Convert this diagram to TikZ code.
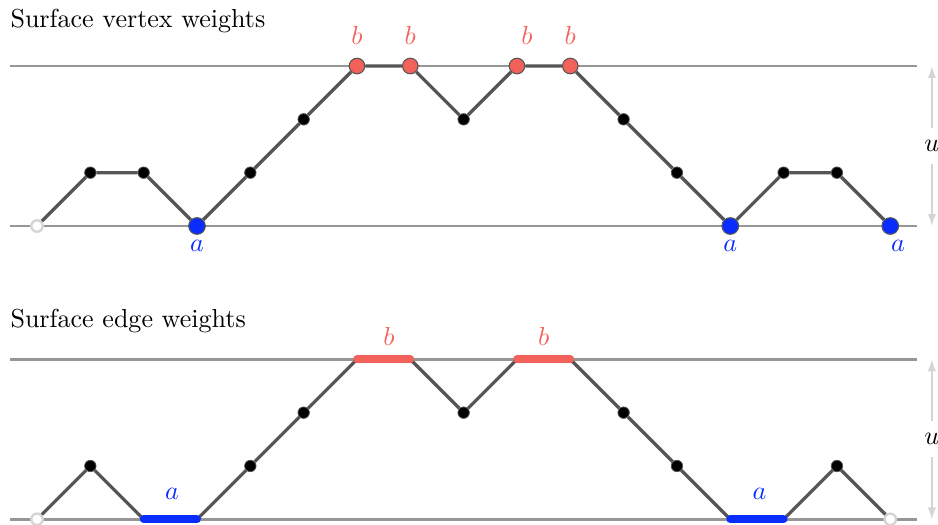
\documentclass[tikz,border=0pt]{standalone}
\usepackage{tikz}
\usetikzlibrary{arrows.meta,positioning}
\definecolor{surfgray}{RGB}{150,150,150}
\definecolor{surfdark}{RGB}{85,85,85}
\definecolor{surfred}{RGB}{242,98,90}
\definecolor{surfblue}{RGB}{10,45,255}
\definecolor{surflight}{RGB}{212,212,212}

\begin{document}
\begin{tikzpicture}[x=0.72cm, y=0.72cm,
  rail/.style={draw=surfgray, line width=0.95pt},
  walk/.style={draw=surfdark, line width=1.25pt},
  blackdot/.style={circle, fill=black, draw=surfdark, line width=0.3pt, inner sep=0pt, minimum size=4.4pt},
  bvert/.style={circle, fill=surfred, draw=surfdark, line width=0.4pt, inner sep=0pt, minimum size=6pt},
  avert/.style={circle, fill=surfblue, draw=surfdark, line width=0.4pt, inner sep=0pt, minimum size=6.4pt},
  openv/.style={circle, fill=white, draw=surflight, line width=0.9pt, inner sep=0pt, minimum size=4.4pt},
  bedge/.style={draw=surfred, line width=3pt, line cap=round},
  aedge/.style={draw=surfblue, line width=3pt, line cap=round},
  tag/.style={inner sep=0pt},
  >={Latex[length=4.6pt,width=3.2pt]}
]
  \useasboundingbox (-0.694,-5.606) rectangle (16.895,4.238);

  % Titles
  \node[anchor=base west, inner sep=0pt] (ttop) at (-0.506,3.73) {Surface vertex weights};
  \node[anchor=base west, inner sep=0pt] (tbot) at (-0.506,-1.894) {Surface edge weights};

  % Rails
  \coordinate (rt1) at (-0.506,3);    \coordinate (rt2) at (16.5,3);
  \coordinate (rb1) at (-0.506,0);    \coordinate (rb2) at (16.5,0);
  \coordinate (st1) at (-0.506,-2.5); \coordinate (st2) at (16.5,-2.5);
  \coordinate (sb1) at (-0.506,-5.5); \coordinate (sb2) at (16.5,-5.5);
  \draw[rail] (rt1) -- (rt2);
  \draw[rail] (rb1) -- (rb2);
  \draw[rail] (st1) -- (st2);
  \draw[rail] (sb1) -- (sb2);

  % Height arrows
  \coordinate (ut) at (16.78,3);    \coordinate (ub) at (16.78,0);
  \coordinate (wt) at (16.78,-2.5); \coordinate (wb) at (16.78,-5.5);
  \draw[<->, surflight, line width=0.6pt] (ut) -- (ub)
    node[midway, fill=white, inner xsep=2pt, inner ysep=4.8pt, text=black] (u1) {$u$};
  \draw[<->, surflight, line width=0.6pt] (wt) -- (wb)
    node[midway, fill=white, inner xsep=2pt, inner ysep=4.8pt, text=black] (u2) {$u$};

  % Surface vertex weights
  \node[openv] (v0) at (0,0) {};
  \node[blackdot] (v1) at (1,1) {};
  \node[blackdot] (v2) at (2,1) {};
  \node[avert] (v3) at (3,0) {};
  \node[blackdot] (v4) at (4,1) {};
  \node[blackdot] (v5) at (5,2) {};
  \node[bvert] (v6) at (6,3) {};
  \node[bvert] (v7) at (7,3) {};
  \node[blackdot] (v8) at (8,2) {};
  \node[bvert] (v9) at (9,3) {};
  \node[bvert] (v10) at (10,3) {};
  \node[blackdot] (v11) at (11,2) {};
  \node[blackdot] (v12) at (12,1) {};
  \node[avert] (v13) at (13,0) {};
  \node[blackdot] (v14) at (14,1) {};
  \node[blackdot] (v15) at (15,1) {};
  \node[avert] (v16) at (16,0) {};

  \draw[walk] (v0) -- (v1) -- (v2) -- (v3) -- (v4) -- (v5) -- (v6) -- (v7) -- (v8)
    -- (v9) -- (v10) -- (v11) -- (v12) -- (v13) -- (v14) -- (v15) -- (v16);

  \node[tag, text=surfred, above=5pt of v6] (b1) {$b$};
  \node[tag, text=surfred, above=5pt of v7] (b2) {$b$};
  \node[tag, text=surfred, above=5pt of v9, xshift=3.8pt] (b3) {$b$};
  \node[tag, text=surfred, above=5pt of v10] (b4) {$b$};
  \node[tag, text=surfblue, below=2pt of v3] (a1) {$a$};
  \node[tag, text=surfblue, below=2pt of v13] (a2) {$a$};
  \node[tag, text=surfblue, below=2pt of v16, xshift=3pt] (a3) {$a$};

  % Surface edge weights
  \node[openv] (e0) at (0,-5.5) {};
  \node[blackdot] (e1) at (1,-4.5) {};
  \coordinate (e2) at (2,-5.5);
  \coordinate (e3) at (3,-5.5);
  \node[blackdot] (e4) at (4,-4.5) {};
  \node[blackdot] (e5) at (5,-3.5) {};
  \coordinate (e6) at (6,-2.5);
  \coordinate (e7) at (7,-2.5);
  \node[blackdot] (e8) at (8,-3.5) {};
  \coordinate (e9) at (9,-2.5);
  \coordinate (e10) at (10,-2.5);
  \node[blackdot] (e11) at (11,-3.5) {};
  \node[blackdot] (e12) at (12,-4.5) {};
  \coordinate (e13) at (13,-5.5);
  \coordinate (e14) at (14,-5.5);
  \node[blackdot] (e15) at (15,-4.5) {};
  \node[openv] (e16) at (16,-5.5) {};

  \draw[walk] (e0) -- (e1) -- (e2);
  \draw[walk] (e3) -- (e4) -- (e5) -- (e6);
  \draw[walk] (e7) -- (e8) -- (e9);
  \draw[walk] (e10) -- (e11) -- (e12) -- (e13);
  \draw[walk] (e14) -- (e15) -- (e16);

  \draw[aedge] (e2) -- (e3) node[midway, above=6pt, tag, text=surfblue, xshift=0.6pt] (a4) {$a$};
  \draw[bedge] (e6) -- (e7) node[midway, above=4pt, tag, text=surfred, xshift=2pt] (b5) {$b$};
  \draw[bedge] (e9) -- (e10) node[midway, above=4pt, tag, text=surfred] (b6) {$b$};
  \draw[aedge] (e13) -- (e14) node[midway, above=6pt, tag, text=surfblue, xshift=1pt] (a5) {$a$};

\end{tikzpicture}
\end{document}
